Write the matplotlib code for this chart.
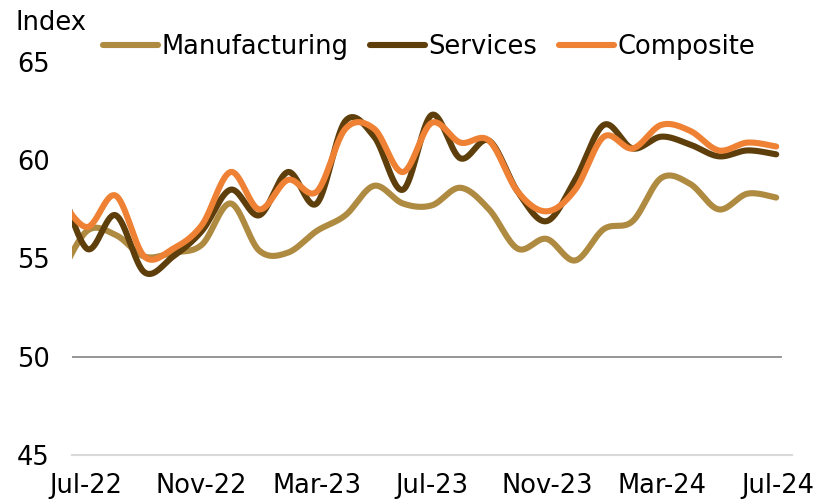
import numpy as np
import matplotlib
matplotlib.use('Agg')
import matplotlib.pyplot as plt

# India PMI, Jun-22 .. Jul-24 (monthly)
months = ['Jun-22', 'Jul-22', 'Aug-22', 'Sep-22', 'Oct-22', 'Nov-22', 'Dec-22',
          'Jan-23', 'Feb-23', 'Mar-23', 'Apr-23', 'May-23', 'Jun-23', 'Jul-23',
          'Aug-23', 'Sep-23', 'Oct-23', 'Nov-23', 'Dec-23', 'Jan-24', 'Feb-24',
          'Mar-24', 'Apr-24', 'May-24', 'Jun-24', 'Jul-24']
manufacturing = [53.9, 56.4, 56.2, 55.1, 55.3, 55.7, 57.8, 55.4, 55.3, 56.4, 57.2,
                 58.7, 57.8, 57.7, 58.6, 57.5, 55.5, 56.0, 54.9, 56.5, 56.9, 59.1,
                 58.8, 57.5, 58.3, 58.1]
services = [59.2, 55.5, 57.2, 54.3, 55.1, 56.4, 58.5, 57.2, 59.4, 57.8, 62.0,
            61.2, 58.5, 62.3, 60.1, 61.0, 58.4, 56.9, 59.0, 61.8, 60.6, 61.2,
            60.8, 60.2, 60.5, 60.3]
composite = [58.2, 56.6, 58.2, 55.1, 55.5, 56.7, 59.4, 57.5, 59.0, 58.4, 61.6,
             61.6, 59.4, 61.9, 60.9, 61.0, 58.4, 57.4, 58.5, 61.2, 60.6, 61.8,
             61.5, 60.5, 60.9, 60.7]
tick_labels = ['Jul-22', 'Nov-22', 'Mar-23', 'Jul-23', 'Nov-23', 'Mar-24', 'Jul-24']


def smooth(x, y, n=40):
    # Catmull-Rom style bezier smoothing (like spreadsheet "smoothed line")
    x = np.asarray(x, float)
    y = np.asarray(y, float)
    px = np.concatenate([[x[0]], x, [x[-1]]])
    py = np.concatenate([[y[0]], y, [y[-1]]])
    t = np.linspace(0, 1, n)[:, None]
    xs, ys = [], []
    for i in range(1, len(px) - 2):
        p0 = np.array([px[i], py[i]])
        p3 = np.array([px[i + 1], py[i + 1]])
        c1 = p0 + (p3 - np.array([px[i - 1], py[i - 1]])) / 6
        c2 = p3 - (np.array([px[i + 2], py[i + 2]]) - p0) / 6
        b = ((1 - t) ** 3) * p0 + 3 * ((1 - t) ** 2) * t * c1 + 3 * (1 - t) * t ** 2 * c2 + t ** 3 * p3
        xs.append(b[:, 0])
        ys.append(b[:, 1])
    return np.concatenate(xs), np.concatenate(ys)


plt.rcParams['font.family'] = ['DejaVu Sans']
fs = 18.5

fig = plt.figure(figsize=(8.17, 5.0), dpi=100)
ax = fig.add_axes([72 / 817, 1 - 455 / 500, (792 - 72) / 817, (455 - 62) / 500])

x = np.arange(len(months))
series = [('Manufacturing', manufacturing, '#AF8A41'),
          ('Services', services, '#5E3E0B'),
          ('Composite', composite, '#EE8134')]
for name, vals, col in series:
    sx, sy = smooth(x, vals)
    ax.plot(sx, sy, color=col, lw=4.4, label=name, solid_capstyle='round',
            solid_joinstyle='round')

ax.set_xlim(0.48, 25.55)
ax.set_ylim(45, 65)
ax.axhline(50, xmin=0, xmax=0.985, color='#8c8c8c', lw=1.3, zorder=0)

for s in ['top', 'right', 'left']:
    ax.spines[s].set_visible(False)
ax.spines['bottom'].set_color('#d9d9d9')
ax.spines['bottom'].set_linewidth(1.5)

ax.set_yticks([45, 50, 55, 60, 65])
ax.tick_params(axis='y', length=0, pad=16, labelsize=fs)
ax.set_xticks(np.linspace(0.97, 25.05, 7))
ax.set_xticklabels(tick_labels)
ax.tick_params(axis='x', length=0, pad=13, labelsize=fs)

fig.text(15 / 817, 1 - 23 / 500, 'Index', fontsize=fs, va='center', ha='left')

ax.legend(loc='center', bbox_to_anchor=(429 / 817, 1 - 47 / 500),
          bbox_transform=fig.transFigure, ncol=3, frameon=False, fontsize=fs,
          handlelength=2.15, handletextpad=0.12, columnspacing=0.85,
          borderpad=0, borderaxespad=0)

fig.savefig('out.png', dpi=100)
